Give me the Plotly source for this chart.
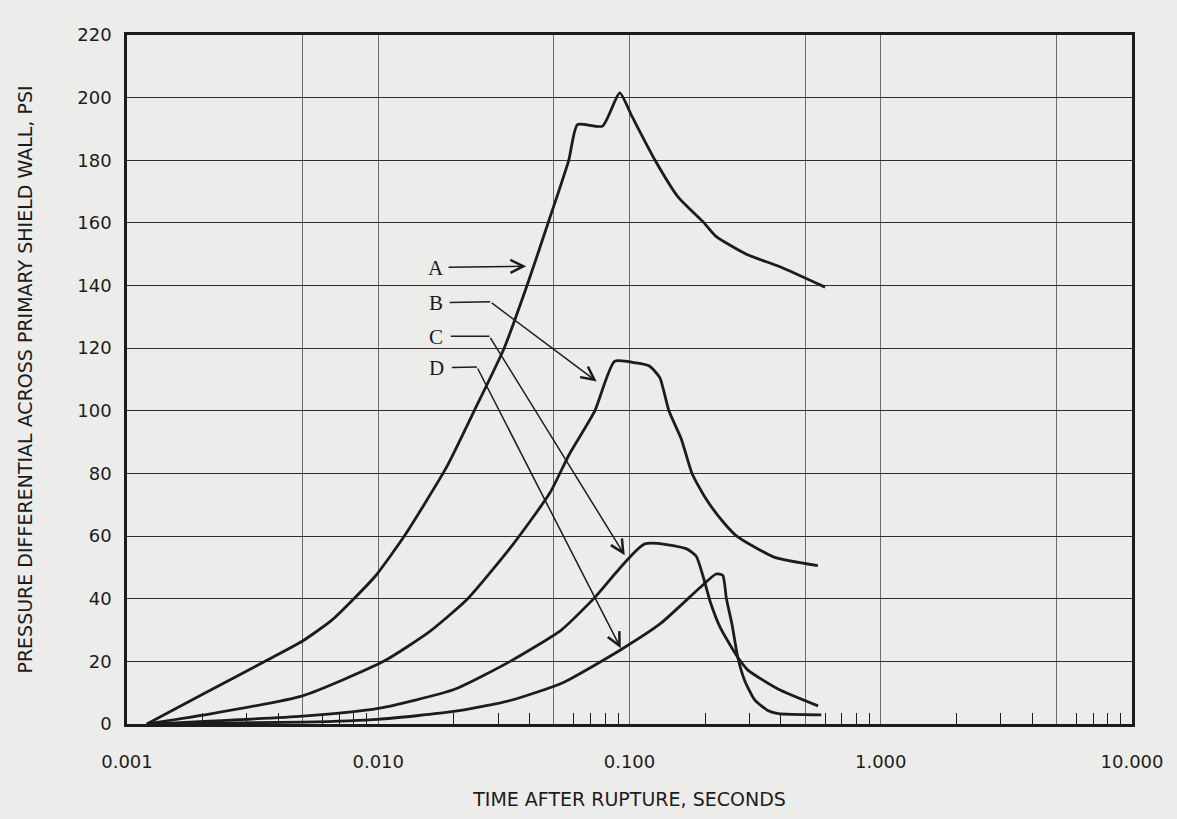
import plotly.graph_objects as go
import math

# ---------------- data ----------------
A_t = [0.0012, 0.002, 0.00364, 0.005, 0.0065, 0.008, 0.0098, 0.0127, 0.0187, 0.0241, 0.0317,
       0.0391, 0.0479, 0.0573, 0.0621, 0.0781, 0.0914, 0.1023, 0.1264, 0.156, 0.198,
       0.221, 0.292, 0.397, 0.60]
A_p = [0, 9.5, 20.5, 26.5, 33, 40, 47.5, 60, 82, 100, 120,
       140, 161, 180, 191.4, 190.9, 201.5, 194, 180, 168.3, 160,
       155.7, 150, 146, 139.5]

B_t = [0.0012, 0.002, 0.005, 0.0105, 0.016, 0.0227, 0.0345, 0.0483, 0.0574, 0.0726, 0.0872,
       0.1062, 0.12, 0.132, 0.1435, 0.1606, 0.1773, 0.2015, 0.236, 0.267, 0.376, 0.562]
B_p = [0, 2.8, 9, 20, 29.5, 40, 57.5, 73.9, 85.9, 99.8, 115.8,
       115.3, 114.3, 110.6, 100, 91.1, 80, 71.9, 64.5, 60, 53.3, 50.6]

C_t = [0.0012, 0.005, 0.01, 0.02, 0.0335, 0.0535, 0.072, 0.115, 0.168, 0.1845,
       0.197, 0.21, 0.2306, 0.2697, 0.296, 0.39, 0.563]
C_p = [0, 2.5, 5, 11, 20, 30, 40, 57.5, 56, 53.5,
       46.7, 38.8, 30.5, 21.3, 17.2, 11.2, 5.8]

D_t = [0.0012, 0.005, 0.01, 0.02, 0.0335, 0.0543, 0.0927, 0.133, 0.1905, 0.221,
       0.235, 0.243, 0.256, 0.2697, 0.287, 0.315, 0.357, 0.391, 0.58]
D_p = [0, 0.6, 1.5, 4, 7.5, 13.2, 23.8, 32.1, 43.5, 47.9,
       47.5, 40.1, 31.7, 21.3, 14, 7.7, 4.2, 3.3, 2.9]

curve_names = ["A", "B", "C", "D"]

x_tick_vals = [0.001, 0.005, 0.01, 0.05, 0.1, 0.5, 1, 5, 10]
x_tick_text = ["0.001", "", "0.010", "", "0.100", "", "1.000", "", "10.000"]
y_tick_vals = list(range(0, 221, 20))

# label letters and leader arrows: (letter, label t, label p, path of (t, p) points)
leaders = [
    ("A", 0.01705, 145.5, [(0.01879, 145.8), (0.0388, 146.2)]),
    ("B", 0.01705, 134.3, [(0.01897, 134.6), (0.0279, 134.8), (0.0740, 109.4)]),
    ("C", 0.01705, 123.5, [(0.01919, 123.8), (0.0277, 123.8), (0.0957, 53.9)]),
    ("D", 0.01705, 113.6, [(0.01936, 113.8), (0.0247, 114.0), (0.0923, 24.2)]),
]

# ---------------- styling ----------------
INK = "#1c1c1c"
BG = "#ececea"
FONT = "DejaVu Sans"

fig = go.Figure()
for name, xs, ys in zip(curve_names, [A_t, B_t, C_t, D_t], [A_p, B_p, C_p, D_p]):
    fig.add_trace(go.Scatter(x=xs, y=ys, mode="lines", name=name,
                             line=dict(color=INK, width=2.8, shape="spline", smoothing=0.55),
                             showlegend=False, hoverinfo="skip"))

annotations = []
for letter, lx, ly, path in leaders:
    annotations.append(dict(x=math.log10(lx), y=ly, xref="x", yref="y", text=letter,
                            showarrow=False,
                            font=dict(family="Liberation Serif", size=21, color=INK)))
    for i in range(len(path) - 1):
        (t0, p0), (t1, p1) = path[i], path[i + 1]
        last = i == len(path) - 2
        annotations.append(dict(x=math.log10(t1), y=p1, ax=math.log10(t0), ay=p0,
                                xref="x", yref="y", axref="x", ayref="y", text="",
                                showarrow=True, arrowhead=5 if last else 0,
                                arrowsize=1.7, arrowwidth=1.5, arrowcolor=INK,
                                standoff=0, startstandoff=0))

shapes = []
for yy in (140, 120):
    shapes.append(dict(type="rect", xref="x", yref="y", x0=-1.86, x1=-1.73,
                       y0=yy - 1.6, y1=yy + 1.6, fillcolor=BG, line=dict(width=0),
                       layer="between"))

minor_vals = [m * 10 ** k for k in range(-3, 1) for m in (2, 3, 4, 6, 7, 8, 9)]

fig.update_layout(
    width=1177, height=819,
    margin=dict(l=127, r=45, t=35, b=95),
    paper_bgcolor=BG, plot_bgcolor=BG,
    annotations=annotations, shapes=shapes,
    xaxis=dict(
        type="log", range=[-3, 1],
        tickvals=x_tick_vals, ticktext=x_tick_text,
        showgrid=True, gridcolor="#6a6a6a", gridwidth=1,
        ticks="outside", ticklen=20, tickcolor="rgba(0,0,0,0)",
        showline=True, linewidth=2.6, linecolor=INK, mirror=True,
        zeroline=False,
        minor=dict(tickvals=minor_vals, ticks="inside", ticklen=11,
                   tickcolor=INK, tickwidth=1.3, showgrid=False),
        tickfont=dict(family=FONT, size=18, color=INK),
        title=dict(text="TIME AFTER RUPTURE, SECONDS", standoff=22,
                   font=dict(family=FONT, size=19, color=INK)),
    ),
    yaxis=dict(
        range=[0, 220], tickvals=y_tick_vals,
        showgrid=True, gridcolor="#2e2e2e", gridwidth=1.4,
        ticks="outside", ticklen=9, tickcolor="rgba(0,0,0,0)",
        showline=True, linewidth=2.6, linecolor=INK, mirror=True,
        zeroline=False,
        tickfont=dict(family=FONT, size=18, color=INK),
        title=dict(text="PRESSURE DIFFERENTIAL ACROSS PRIMARY SHIELD WALL, PSI",
                   standoff=40, font=dict(family=FONT, size=19, color=INK)),
    ),
)

fig.write_html("out.html", config={"displayModeBar": False},
               post_script="document.body.style.margin='0';document.body.style.background='%s';" % BG)
